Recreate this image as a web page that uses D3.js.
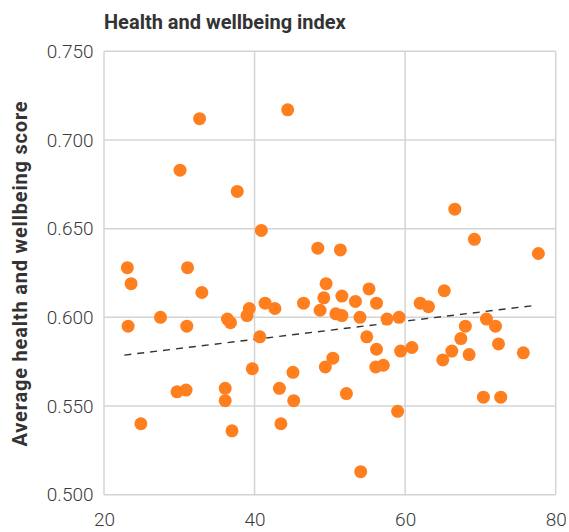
<!DOCTYPE html>
<html>
<head>
<meta charset="utf-8">
<script src="https://cdn.jsdelivr.net/npm/d3@7"></script>
<style>
  body { margin: 0; background: #fff; }
  .tick text { font-family: Roboto, "Open Sans", sans-serif; font-weight: 300; font-size: 19px; fill: #3a3a3a; }
  .title, .axisText { font-family: Roboto, "Open Sans", sans-serif; font-weight: 700; fill: #333; }
</style>
</head>
<body>
<div class="chart"></div>
<script>
// x = share (%), y = average health and wellbeing score
var xValues = [23.1, 23.6, 31.1, 33.0, 27.5, 23.2, 31.0, 36.4, 36.8, 39.3,
  39.0, 40.9, 41.4, 42.7, 46.5, 48.4, 49.5, 49.2, 48.7, 50.8,
  51.6, 51.4, 51.6, 55.2, 53.4, 56.2, 54.0, 57.6, 59.2, 69.2,
  77.7, 65.2, 62.0, 63.1, 70.8, 72.0, 68.0, 54.9, 67.4, 72.4,
  56.2, 59.4, 60.9, 66.2, 68.5, 75.7, 65.0, 50.4, 49.4, 39.7,
  45.1, 56.1, 57.1, 66.6, 32.7, 44.4, 30.1, 37.7, 29.7, 30.9,
  36.1, 36.1, 43.3, 45.2, 24.9, 37.0, 43.5, 52.2, 59.0, 54.1,
  70.4, 72.7, 40.7];

var yValues = [0.628, 0.619, 0.628, 0.614, 0.600, 0.595, 0.595, 0.599, 0.597, 0.605,
  0.601, 0.649, 0.608, 0.605, 0.608, 0.639, 0.619, 0.611, 0.604, 0.602,
  0.601, 0.638, 0.612, 0.616, 0.609, 0.608, 0.600, 0.599, 0.600, 0.644,
  0.636, 0.615, 0.608, 0.606, 0.599, 0.595, 0.595, 0.589, 0.588, 0.585,
  0.582, 0.581, 0.583, 0.581, 0.579, 0.580, 0.576, 0.577, 0.572, 0.571,
  0.569, 0.572, 0.573, 0.661, 0.712, 0.717, 0.683, 0.671, 0.558, 0.559,
  0.560, 0.553, 0.560, 0.553, 0.540, 0.536, 0.540, 0.557, 0.547, 0.513,
  0.555, 0.555, 0.589];

// dashed trend line end points
var trendX = [22.7, 77.0];
var trendY = [0.5787, 0.6066];

var xTicks = [20, 40, 60, 80];
var yTicks = [0.500, 0.550, 0.600, 0.650, 0.700, 0.750];

var svgWidth = 569;
var svgHeight = 532;

var margin = {
  top: 51.3,
  right: 13.3,
  bottom: 37.3,
  left: 104
};

var width = svgWidth - margin.left - margin.right;
var height = svgHeight - margin.top - margin.bottom;

var svg = d3.select(".chart")
  .append("svg")
  .attr("width", svgWidth)
  .attr("height", svgHeight);

var chartGroup = svg.append("g")
  .attr("transform", `translate(${margin.left}, ${margin.top})`);

var xLinearScale = d3.scaleLinear()
  .domain([20, 80])
  .range([0, width]);

var yLinearScale = d3.scaleLinear()
  .domain([0.5, 0.75])
  .range([height, 0]);

// grid lines
chartGroup.append("g")
  .selectAll("line")
  .data(xTicks)
  .enter()
  .append("line")
  .attr("x1", d => xLinearScale(d))
  .attr("x2", d => xLinearScale(d))
  .attr("y1", 0)
  .attr("y2", height)
  .attr("stroke", "#d4d4d4")
  .attr("stroke-width", 1.5);

chartGroup.append("g")
  .selectAll("line")
  .data(yTicks)
  .enter()
  .append("line")
  .attr("x1", 0)
  .attr("x2", width)
  .attr("y1", d => yLinearScale(d))
  .attr("y2", d => yLinearScale(d))
  .attr("stroke", "#d4d4d4")
  .attr("stroke-width", 1.5);

// axes (labels only)
var bottomAxis = d3.axisBottom(xLinearScale)
  .tickValues(xTicks)
  .tickSize(0)
  .tickPadding(17.5);

var leftAxis = d3.axisLeft(yLinearScale)
  .tickValues(yTicks)
  .tickFormat(d3.format(".3f"))
  .tickSize(0)
  .tickPadding(10.5);

chartGroup.append("g")
  .attr("transform", `translate(0, ${height})`)
  .call(bottomAxis)
  .call(g => g.select(".domain").remove());

chartGroup.append("g")
  .call(leftAxis)
  .call(g => g.select(".domain").remove());

// trend line
var trendLine = d3.line()
  .x(d => xLinearScale(d[0]))
  .y(d => yLinearScale(d[1]));

chartGroup.append("path")
  .datum(d3.zip(trendX, trendY))
  .attr("d", trendLine)
  .attr("fill", "none")
  .attr("stroke", "#333")
  .attr("stroke-width", 1.4)
  .attr("stroke-dasharray", "7,6");

// points
chartGroup.selectAll("circle")
  .data(d3.zip(xValues, yValues))
  .enter()
  .append("circle")
  .attr("cx", d => xLinearScale(d[0]))
  .attr("cy", d => yLinearScale(d[1]))
  .attr("r", 6.5)
  .attr("fill", "#ff7f1f");

// titles
svg.append("text")
  .attr("class", "title")
  .attr("x", margin.left)
  .attr("y", 29.3)
  .attr("font-size", 20)
  .text("Health and wellbeing index");

svg.append("text")
  .attr("class", "axisText")
  .attr("transform", `translate(26.5, 273.5) rotate(-90)`)
  .attr("text-anchor", "middle")
  .attr("font-size", 20)
  .attr("letter-spacing", 0.8)
  .text("Average health and wellbeing score");
</script>
</body>
</html>
